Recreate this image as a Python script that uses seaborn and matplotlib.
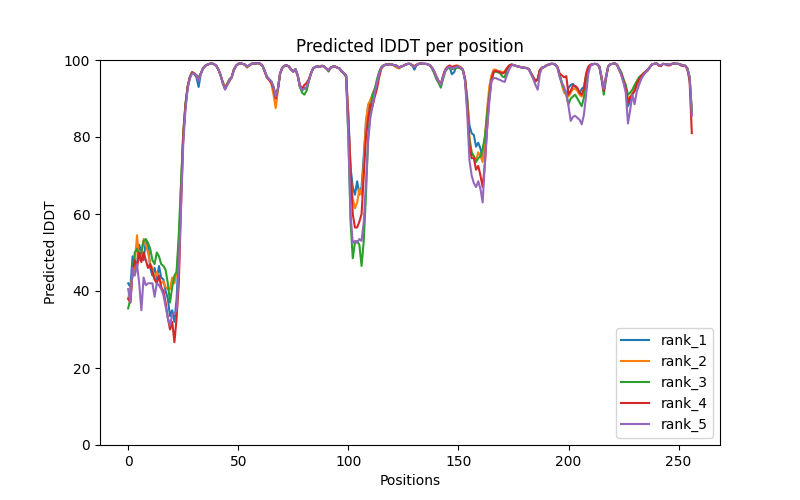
import numpy as np
import pandas as pd
import matplotlib
matplotlib.use("Agg")
import matplotlib.pyplot as plt
import seaborn as sns

rank_names = ["rank_1", "rank_2", "rank_3", "rank_4", "rank_5"]

rank_1 = [
    42, 41, 49, 45, 47, 52, 50, 48, 53, 52,
    46, 44, 46, 43, 46.5, 43.5, 43, 40, 38, 33.5,
    35, 32, 38, 50, 66, 80, 88, 93, 95.5, 96.8,
    96.5, 95.5, 93, 96.5, 97.8, 98.5, 98.8, 99, 99.1, 98.9,
    98.5, 97.5, 96, 94, 92.5, 93.8, 95, 95.5, 97.5, 98.5,
    99, 99.1, 99, 98.8, 98.3, 98.6, 99, 99.1, 99.1, 99.2,
    99, 98.5, 97.2, 95.8, 95, 94.5, 93, 90.5, 92.5, 96.5,
    98, 98.5, 98.6, 98.3, 97.5, 97, 97.6, 96, 93, 92,
    92.8, 92.5, 94.5, 96.5, 97.8, 98.2, 98.3, 98.2, 98.5, 98.3,
    97.8, 97.3, 98, 98.3, 98.3, 98, 97.8, 97, 96.5, 95.8,
    86, 72, 67, 65, 68.5, 65, 67, 75, 84, 88,
    89.5, 91, 92.5, 94, 96.5, 98, 98.6, 98.8, 98.8, 98.9,
    98.8, 98.6, 98.5, 98, 98.3, 98.5, 98.8, 99, 99, 98.6,
    97.5, 98.7, 99, 99.1, 99, 99, 98.9, 98.6, 98, 97,
    95.6, 94.5, 93.5, 95.5, 97.3, 98, 98.2, 96.3, 96.8, 98.2,
    98.3, 98, 97.5, 95, 90, 83, 81, 80.5, 77.5, 78.5,
    77, 74.5, 79, 85, 91, 95, 96.8, 97.2, 97, 97,
    96.8, 97, 97.8, 98.5, 98.8, 98.7, 98.5, 98.3, 98.2, 98,
    98, 97.9, 97.6, 96.5, 95.5, 94.5, 95, 97.4, 98, 98.2,
    98.6, 98.8, 99, 99, 98.8, 98, 96, 94, 92, 91,
    92.8, 93.5, 93.8, 93, 92.5, 91.5, 92.5, 93, 96, 98,
    98.7, 98.9, 99, 98.9, 98.3, 95.5, 92, 95.5, 98.3, 98.9,
    99, 99.1, 98.8, 97.5, 96.3, 94.5, 92.5, 88, 89.5, 91,
    92, 93.5, 94.5, 95.5, 96.2, 96.8, 97.3, 98.2, 98.9, 99,
    99.1, 98.7, 98.6, 99, 98.9, 98.8, 98.8, 99, 99.1, 99,
    99, 98.8, 98.6, 98.5, 97.8, 95.5, 86,
]

rank_2 = [
    38, 41, 44, 47, 54.5, 48, 50, 53.5, 52, 50,
    47, 46, 43, 45, 43.5, 42, 42.5, 41, 40.5, 40.5,
    43.5, 42, 45, 52, 67, 81, 88.5, 93, 95.5, 96.8,
    96.6, 96, 95, 96.5, 97.8, 98.5, 98.8, 99, 99.1, 98.9,
    98.5, 97.5, 96, 94.3, 93, 93.8, 95, 95.5, 97.5, 98.5,
    99, 99.1, 99, 98.7, 98, 98.6, 99, 99.1, 99.1, 99.2,
    99, 98.5, 97, 95.5, 95, 94, 91, 87.5, 92, 96.5,
    98, 98.5, 98.6, 98.3, 97.6, 97, 97.5, 95.8, 93, 92.5,
    92.5, 92.5, 94.5, 96.5, 97.8, 98.2, 98.3, 98.2, 98.5, 98.3,
    97.8, 97.3, 98, 98.3, 98.3, 98, 97.8, 97, 96.5, 95.8,
    85, 70, 64, 61.5, 63, 66.5, 65, 73, 84, 88.5,
    89.5, 91, 92.5, 94, 96.5, 98, 98.6, 98.8, 98.8, 98.9,
    98.8, 98.4, 98, 97.8, 98.3, 98.5, 98.8, 99, 99, 98.7,
    98.5, 98.8, 99, 99.1, 99, 99, 98.9, 98.6, 98, 97,
    95.6, 94.5, 93.5, 95.8, 97.5, 98.2, 98.4, 98, 98.3, 98.6,
    98.5, 98.2, 97.5, 95, 90, 80, 76, 75, 74, 76,
    75, 73.5, 80, 87, 93, 96, 97.5, 97.5, 97, 97,
    96.8, 97, 97.8, 98.5, 98.8, 98.7, 98.5, 98.3, 98.2, 98,
    98, 97.9, 97.6, 96.5, 95.5, 94.5, 95, 97.4, 98, 98.2,
    98.6, 98.8, 99, 99, 98.8, 98, 96, 93.5, 91.5, 91,
    90.5, 91.5, 92.5, 92.5, 92, 91, 90.5, 92, 96, 98,
    98.7, 98.9, 99, 98.9, 98.3, 95.5, 92, 95.5, 98.3, 98.9,
    99, 99.1, 98.8, 97.5, 96.3, 94.5, 93, 90, 90.5, 90.8,
    92.5, 93.5, 94.8, 95.5, 96.2, 96.8, 97.3, 98.2, 98.9, 99,
    99.1, 98.7, 98.6, 99, 98.9, 98.8, 98.8, 99, 99.1, 99,
    99, 98.8, 98.6, 98.5, 97.8, 95.5, 87,
]

rank_3 = [
    35.5, 38, 45, 50, 51, 49, 50, 53, 53.5, 52.5,
    51, 48, 47, 50, 49, 47, 46.5, 45.5, 42, 37,
    41, 44, 45, 55, 68, 81, 88.5, 93, 95.5, 96.8,
    96.5, 96, 95.5, 96.5, 97.8, 98.5, 98.8, 99, 99.1, 98.9,
    98.5, 97.5, 96, 94, 92.8, 93.8, 95, 95.5, 97.5, 98.5,
    99, 99.1, 99, 98.8, 98.3, 98.6, 99, 99.1, 99.1, 99.2,
    99, 98.5, 97.2, 95.5, 95, 94.3, 93, 90.5, 92.5, 96.5,
    98, 98.5, 98.6, 98.3, 97.5, 97, 97.6, 96, 93, 91.5,
    91, 92, 94.5, 96.5, 97.8, 98.2, 98.3, 98.2, 98.5, 98.3,
    97.8, 97, 98, 98.3, 98.3, 98, 97.8, 97, 96.5, 95.5,
    80, 58, 48.5, 52.5, 53, 52, 46.5, 53, 65, 80,
    87, 91, 92.5, 95, 97, 98.2, 98.6, 98.8, 98.8, 98.9,
    98.8, 98.6, 98.5, 98, 98.3, 98.5, 98.8, 99, 99, 98.6,
    98.2, 98.7, 99, 99.1, 99, 99, 98.9, 98.6, 97.8, 96.5,
    95, 94, 92.8, 95, 97, 97.8, 98, 97.6, 97.8, 98,
    98, 97.8, 97.3, 95, 89, 79, 76, 75, 73.5, 74.5,
    75, 77, 80, 85.5, 91, 95, 96.8, 97, 96.8, 96.5,
    95.7, 95.5, 97.5, 98.5, 98.8, 98.7, 98.5, 98.3, 98.2, 98,
    98, 97.9, 97.6, 96.5, 95.5, 94.5, 95, 97.4, 98, 98.2,
    98.6, 98.8, 99, 99, 98.8, 98, 96, 94, 92.5, 91,
    88.5, 90, 90.5, 91, 90, 89, 88, 90.3, 95, 97.8,
    98.7, 98.9, 99, 98.9, 98.3, 95, 91, 95, 98.3, 98.9,
    99, 99.1, 98.8, 97.8, 96.8, 95, 93.5, 91, 91.5, 92.3,
    93.5, 94.5, 95.5, 96, 96.5, 97, 97.5, 98.2, 98.9, 99,
    99.1, 98.7, 98.6, 99, 98.9, 98.8, 98.8, 99, 99.1, 99,
    99, 98.8, 98.6, 98.5, 97.8, 95.5, 86.5,
]

rank_4 = [
    38, 37, 45, 48, 46, 50, 47.5, 50, 48, 46,
    47, 45, 43, 42, 44, 41, 40, 37, 33, 30,
    32, 26.7, 33, 42, 62, 80, 88, 93, 95.5, 96.8,
    96.5, 96, 95, 96.5, 97.8, 98.5, 98.8, 99, 99.1, 98.9,
    98.5, 97.5, 96, 94, 92.5, 93.5, 94.5, 95.5, 97.5, 98.5,
    99, 99.1, 99, 98.8, 98.3, 98.6, 99, 99.1, 99.1, 99.2,
    99, 98.5, 97, 95.5, 94.8, 94, 92.5, 90, 92.5, 96.5,
    98, 98.5, 98.6, 98.3, 97.5, 97, 97.6, 96, 93.5, 92.5,
    93.5, 94, 95, 96.5, 97.8, 98.2, 98.3, 98.2, 98.5, 98.3,
    97.8, 97.3, 98, 98.3, 98.3, 98, 97.8, 97, 96.5, 96,
    84, 72, 60, 56.5, 56.5, 58, 60, 70, 80, 85,
    88.5, 88, 90.5, 92.5, 95.5, 97.8, 98.5, 98.8, 98.8, 98.9,
    98.8, 98.6, 98.5, 98, 98.3, 98.5, 98.8, 99, 99, 98.6,
    98.3, 98.7, 99, 99.1, 99, 99, 98.9, 98.6, 98, 97,
    95.6, 94.5, 93.8, 95.8, 97.5, 98.2, 98.6, 98.2, 98.4, 98.5,
    98.3, 98, 97.5, 95, 88, 78, 74.5, 74.5, 71.5, 72.5,
    70, 67, 73, 82, 90, 95, 97, 97.2, 97, 96.8,
    96.5, 96.8, 97.8, 98.5, 98.8, 98.7, 98.5, 98.3, 98.2, 98,
    98, 97.9, 97.6, 96.5, 95.5, 94.5, 95, 97.4, 98, 98.2,
    98.6, 98.8, 99, 99, 98.8, 98.2, 96.5, 96, 95.5, 95.8,
    91, 92, 93.3, 93.3, 92.8, 91.5, 91, 92.5, 96.5, 98.3,
    98.8, 98.9, 99, 98.9, 98.3, 95.5, 92, 95.5, 98.3, 98.9,
    99, 99.1, 98.8, 97.5, 96.3, 94.5, 92.5, 89, 90.3, 91.2,
    92, 93.8, 95, 95.8, 96.5, 97, 97.5, 98.2, 98.9, 99,
    99.1, 98.5, 98.4, 99, 98.9, 98.6, 98.6, 99, 99.1, 99,
    99, 98.6, 98.4, 98.5, 97.5, 94.5, 81,
]

rank_5 = [
    40.5, 37, 46, 44, 47, 42, 35, 43.5, 41.5, 42,
    42, 42, 38.5, 42, 41.5, 40.5, 39, 36, 33, 31,
    34, 34, 35, 46, 62, 78, 87, 92.5, 95.2, 96.5,
    96.5, 96, 94.5, 96.5, 97.8, 98.5, 98.8, 99, 99.1, 98.9,
    98.5, 97.5, 96, 94, 92.3, 93.5, 94.8, 95.5, 97.3, 98.5,
    99, 99.1, 99, 98.8, 98.3, 98.6, 99, 99.1, 99.1, 99.2,
    99, 98.5, 97.2, 95.5, 95, 94.5, 93, 90.5, 92.5, 96.5,
    98, 98.5, 98.6, 98.3, 97.5, 97, 97.6, 96, 93, 92.3,
    92.5, 93, 94.5, 96.5, 97.8, 98.2, 98.3, 98.2, 98.5, 98.3,
    97.8, 97.3, 98, 98.3, 98.3, 98, 97.8, 97, 96.5, 96,
    80, 60, 52.5, 53, 52.5, 53.5, 53, 58, 68, 79,
    85, 88, 91.5, 94, 96.5, 98, 98.6, 98.8, 98.8, 98.9,
    98.8, 98.6, 98.5, 98, 98.3, 98.5, 98.8, 99, 99, 98.6,
    98.2, 98.7, 99, 99.1, 99, 99, 98.9, 98.6, 98, 97,
    95.6, 94.5, 93.5, 95.5, 97.3, 98, 98.2, 97.8, 98, 98.2,
    98.3, 98, 97.5, 94.5, 86, 74, 70, 68, 67, 68.5,
    66.5, 63, 73, 82, 89, 94.5, 95.3, 95.3, 95, 94.8,
    94.5, 94.3, 96, 97.5, 98.5, 98.7, 98.5, 98.3, 98.2, 98,
    98, 97.9, 97.6, 96.3, 95, 93.5, 92.3, 96.5, 98, 98.2,
    98.6, 98.8, 99, 99, 98.8, 98, 95.5, 94, 93, 91,
    88, 84.2, 85.2, 85.5, 85, 84.5, 83.3, 85.8, 91, 96.5,
    98.5, 98.9, 99, 98.9, 98.3, 95.5, 92.5, 95.5, 98.3, 98.9,
    99, 99.1, 98.8, 97.5, 96, 94, 91.5, 83.5, 87, 91,
    88.5, 91.8, 93.5, 95, 96, 96.8, 97.3, 98.2, 98.9, 99,
    99.1, 98.7, 98.6, 99, 98.9, 98.8, 98.8, 99, 99.1, 99,
    99, 98.8, 98.6, 98.5, 97.8, 95.5, 85.5,
]

series = [rank_1, rank_2, rank_3, rank_4, rank_5]
positions = list(range(len(rank_1)))

palette = sns.color_palette("tab10", 5)

fig, ax = plt.subplots(figsize=(8, 5), dpi=100)
for name, vals, col in zip(rank_names, series, palette):
    df = pd.DataFrame({"Positions": positions[:len(vals)], "lDDT": vals})
    sns.lineplot(data=df, x="Positions", y="lDDT", ax=ax, color=col,
                 label=name, linewidth=1.5)

ax.set_ylim(0, 100)
ax.set_title("Predicted lDDT per position")
ax.set_xlabel("Positions")
ax.set_ylabel("Predicted lDDT")
ax.legend(loc="lower right")
fig.savefig("out.png", dpi=100)
